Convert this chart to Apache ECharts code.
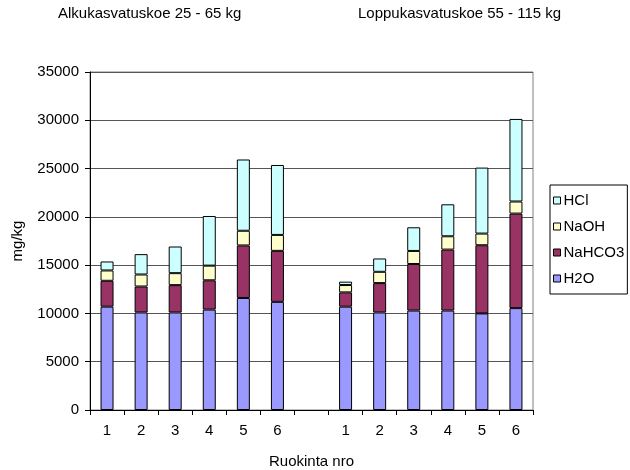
<!DOCTYPE html>
<html>
<head>
<meta charset="utf-8">
<script src="https://cdn.jsdelivr.net/npm/echarts@6/dist/echarts.min.js"></script>
<style>
  html, body { margin: 0; padding: 0; background: #fff; }
  #chart { width: 630px; height: 470px; }
</style>
</head>
<body>
<div id="chart"></div>
<script>
// Feeding rounds: two trials of six rounds, separated by an empty slot
const categories = ['1', '2', '3', '4', '5', '6', '', '1', '2', '3', '4', '5', '6'];

// Stacked components, mg/kg (null in the gap slot)
const h2o    = [10700, 10100, 10100, 10400, 11600, 11200, null, 10700, 10100, 10300, 10300, 10000, 10550];
const nahco3 = [2680, 2690, 2830, 3030, 5440, 5280, null, 1480, 3040, 4820, 6310, 7060, 9790];
const naoh   = [1070, 1240, 1240, 1520, 1520, 1650, null, 760, 1170, 1350, 1380, 1210, 1250];
const hcl    = [930, 2110, 2760, 5140, 7380, 7240, null, 350, 1380, 2450, 3310, 6830, 8550];

const groupTitles = ['Alkukasvatuskoe 25 - 65 kg', 'Loppukasvatuskoe 55 - 115 kg'];

const FONT = 'Liberation Sans, Arial, sans-serif';
const FS = 15;

function barSeries(name, data, color) {
  return {
    name: name,
    type: 'bar',
    stack: 'total',
    data: data,
    barWidth: 13,
    itemStyle: { color: color, borderColor: '#000', borderWidth: 1 }
  };
}

const chart = echarts.init(document.getElementById('chart'), null, { renderer: 'canvas' });

chart.setOption({
  animation: false,
  backgroundColor: '#fff',
  textStyle: { fontFamily: FONT },
  grid: {
    left: 90, right: 97, top: 72, bottom: 60,
    outerBoundsMode: 'none',
    containLabel: false,
    show: true, borderColor: '#808080', borderWidth: 1
  },
  graphic: [
    { type: 'text', left: 58, top: 6, style: { text: groupTitles[0], font: FS + 'px ' + FONT, fill: '#000' } },
    { type: 'text', left: 358, top: 6, style: { text: groupTitles[1], font: FS + 'px ' + FONT, fill: '#000' } }
  ],
  legend: {
    orient: 'vertical',
    left: 550, top: 185,
    data: ['HCl', 'NaOH', 'NaHCO3', 'H2O'],
    itemWidth: 7, itemHeight: 7, itemGap: 11,
    icon: 'rect',
    borderColor: '#000', borderWidth: 1,
    padding: [8, 3, 8, 3],
    textStyle: { fontFamily: FONT, fontSize: FS, color: '#000', padding: [0, 0, 0, -2] },
    itemStyle: { borderColor: '#000', borderWidth: 1 }
  },
  xAxis: {
    type: 'category',
    data: categories,
    name: 'Ruokinta nro',
    nameLocation: 'middle',
    nameGap: 44,
    nameTextStyle: { fontFamily: FONT, fontSize: FS, color: '#000' },
    axisLine: { lineStyle: { color: '#000', width: 1 } },
    axisTick: { show: true, alignWithLabel: false, length: 5, lineStyle: { color: '#000' } },
    axisLabel: { fontFamily: FONT, fontSize: FS, color: '#000', margin: 13, interval: 0 }
  },
  yAxis: {
    type: 'value',
    min: 0, max: 35000, interval: 5000,
    name: 'mg/kg',
    nameLocation: 'middle',
    nameGap: 65,
    nameRotate: 90,
    nameTextStyle: { fontFamily: FONT, fontSize: FS, color: '#000' },
    axisLine: { show: true, lineStyle: { color: '#000', width: 1 } },
    axisTick: { show: true, length: 5, lineStyle: { color: '#000' } },
    axisLabel: { fontFamily: FONT, fontSize: FS, color: '#000', margin: 11, formatter: function (v) { return String(v); } },
    splitLine: { show: true, lineStyle: { color: '#555', width: 1 } }
  },
  series: [
    barSeries('H2O', h2o, '#9999FF'),
    barSeries('NaHCO3', nahco3, '#993366'),
    barSeries('NaOH', naoh, '#FFFFCC'),
    barSeries('HCl', hcl, '#CCFFFF')
  ]
});
</script>
</body>
</html>
